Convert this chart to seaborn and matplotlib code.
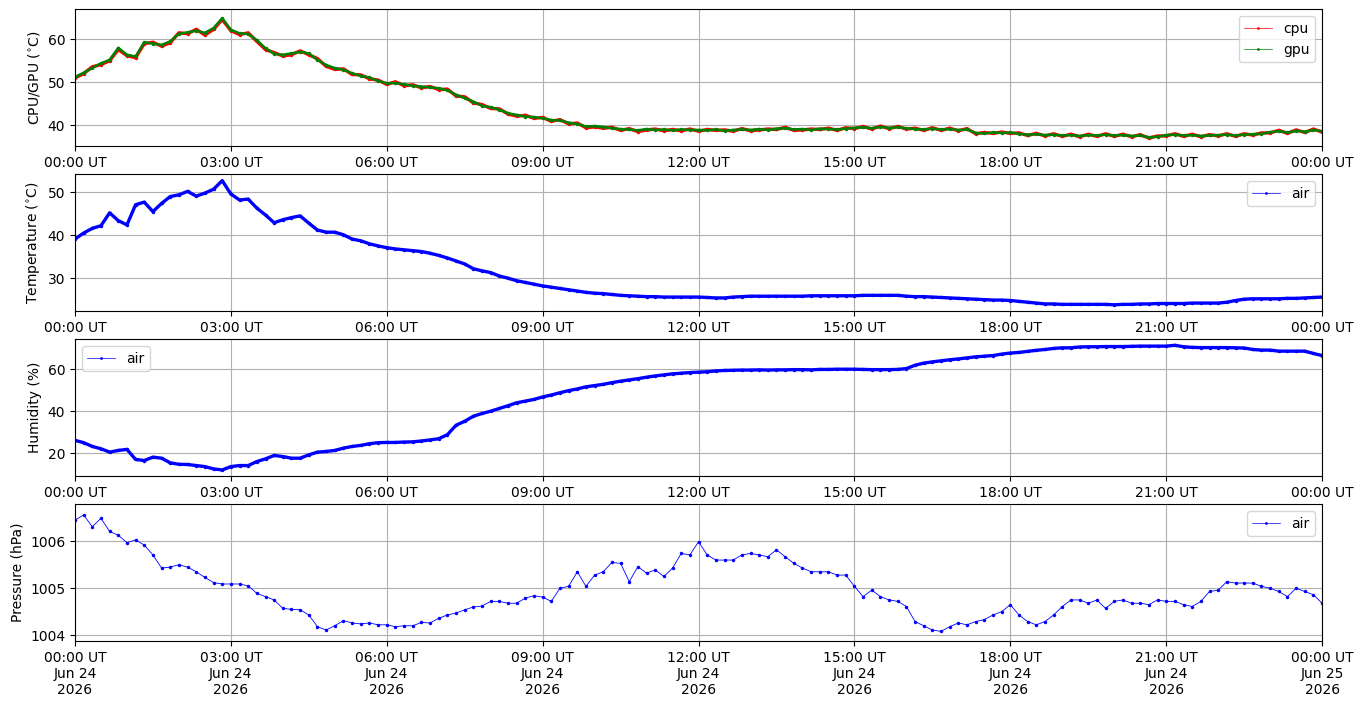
import pandas as pd
import seaborn as sns
import matplotlib.pyplot as plt
import matplotlib.dates as mdates
from matplotlib.ticker import ScalarFormatter

# Sample times, one reading every 10 minutes over the day
times = pd.date_range('2026-06-24 00:00', '2026-06-25 00:00', freq='10min')

# CPU / GPU temperature (deg C), rows are hours
gpu = [51.2, 52.2, 53.3, 54.4, 55.2, 58.0,
       56.4, 56.0, 59.3, 59.0, 58.7, 59.5,
       61.3, 61.6, 62.0, 61.5, 62.6, 64.9,
       62.2, 61.4, 61.2, 59.8, 57.9, 56.6,
       56.4, 56.7, 57.1, 56.7, 55.2, 54.0,
       53.3, 52.9, 52.1, 51.5, 51.1, 50.3,
       49.8, 49.8, 49.5, 49.2, 49.0, 48.8,
       48.6, 48.1, 47.1, 46.3, 45.5, 44.5,
       44.2, 43.6, 42.8, 42.4, 42.0, 41.9,
       41.6, 41.2, 41.1, 40.6, 40.3, 39.7,
       39.8, 39.6, 39.3, 39.1, 39.0, 38.8,
       39.1, 38.9, 39.0, 38.8, 39.0, 38.9,
       38.9, 38.8, 39.0, 38.7, 38.9, 39.0,
       38.9, 39.1, 38.9, 39.2, 39.3, 39.0,
       39.1, 38.9, 39.2, 39.1, 39.0, 39.2,
       39.4, 39.5, 39.3, 39.6, 39.4, 39.5,
       39.3, 39.1, 39.0, 39.2, 39.0, 39.1,
       38.9, 39.0, 38.2, 38.1, 38.3, 38.2,
       38.3, 38.0, 37.8, 37.9, 37.7, 37.8,
       37.6, 37.7, 37.5, 37.7, 37.6, 37.8,
       37.6, 37.7, 37.5, 37.6, 37.2, 37.3,
       37.7, 37.8, 37.6, 37.7, 37.5, 37.6,
       37.7, 37.8, 37.6, 37.8, 37.9, 38.0,
       38.4, 38.6, 38.3, 38.7, 38.5, 38.9,
       38.6]
cpu = [51.0, 52.0, 53.6, 54.1, 55.0, 57.6,
       56.2, 55.7, 59.0, 59.3, 58.4, 59.2,
       61.5, 61.3, 62.3, 61.0, 62.3, 64.6,
       62.0, 61.1, 61.5, 59.5, 57.6, 56.9,
       56.1, 56.4, 57.3, 56.4, 55.5, 53.7,
       53.0, 53.1, 51.8, 51.7, 50.8, 50.5,
       49.5, 50.1, 49.2, 49.4, 48.7, 49.0,
       48.3, 48.4, 46.8, 46.6, 45.2, 44.8,
       43.9, 43.8, 42.6, 42.1, 42.3, 41.6,
       41.8, 40.9, 41.3, 40.3, 40.5, 39.4,
       39.6, 39.3, 39.5, 38.8, 39.2, 38.5,
       38.9, 39.1, 38.7, 39.0, 38.7, 39.1,
       38.6, 39.0, 38.8, 38.9, 38.6, 39.2,
       38.7, 38.9, 39.1, 39.0, 39.5, 38.8,
       38.9, 39.1, 39.0, 39.3, 38.8, 39.4,
       39.2, 39.7, 39.1, 39.8, 39.2, 39.7,
       39.1, 39.3, 38.8, 39.4, 38.8, 39.3,
       38.7, 39.2, 38.0, 38.3, 38.1, 38.4,
       38.1, 38.2, 37.6, 38.1, 37.5, 38.0,
       37.4, 37.9, 37.3, 37.9, 37.4, 38.0,
       37.4, 37.9, 37.3, 37.8, 37.0, 37.5,
       37.5, 38.0, 37.4, 37.9, 37.3, 37.8,
       37.5, 38.0, 37.4, 38.0, 37.7, 38.2,
       38.2, 38.8, 38.1, 38.9, 38.3, 39.1,
       38.4]

# Air temperature (deg C)
air_temp = [39.1, 40.5, 41.6, 42.2, 45.2, 43.4,
            42.4, 47.1, 47.7, 45.5, 47.4, 49.0,
            49.4, 50.2, 49.1, 49.8, 50.7, 52.7,
            49.6, 48.2, 48.4, 46.3, 44.7, 42.9,
            43.6, 44.1, 44.5, 42.8, 41.2, 40.7,
            40.7, 40.1, 39.1, 38.7, 38.0, 37.5,
            37.1, 36.8, 36.6, 36.4, 36.2, 35.8,
            35.3, 34.7, 34.0, 33.3, 32.2, 31.7,
            31.3, 30.5, 30.0, 29.4, 29.0, 28.6,
            28.2, 27.9, 27.6, 27.3, 27.0, 26.7,
            26.5, 26.4, 26.2, 26.0, 25.9, 25.8,
            25.7, 25.7, 25.6, 25.6, 25.6, 25.6,
            25.6, 25.5, 25.4, 25.4, 25.6, 25.7,
            25.8, 25.8, 25.8, 25.8, 25.8, 25.8,
            25.8, 25.9, 25.9, 25.9, 25.9, 25.9,
            25.9, 26.0, 26.0, 26.0, 26.0, 26.0,
            25.8, 25.7, 25.7, 25.6, 25.5, 25.4,
            25.3, 25.2, 25.1, 25.0, 24.9, 24.9,
            24.8, 24.6, 24.4, 24.2, 24.0, 24.0,
            23.9, 23.9, 23.9, 23.9, 23.9, 23.9,
            23.8, 23.9, 23.9, 24.0, 24.0, 24.1,
            24.1, 24.1, 24.1, 24.2, 24.2, 24.2,
            24.2, 24.4, 24.8, 25.1, 25.2, 25.2,
            25.2, 25.2, 25.3, 25.3, 25.4, 25.5,
            25.6]

# Relative humidity (%)
humidity = [26.1, 25.0, 23.2, 22.1, 20.5, 21.3,
            21.8, 17.0, 16.5, 18.1, 17.6, 15.4,
            14.7, 14.6, 14.1, 13.6, 12.5, 12.0,
            13.6, 14.1, 14.1, 16.0, 17.3, 18.9,
            18.4, 17.6, 17.6, 19.2, 20.5, 20.8,
            21.3, 22.4, 23.2, 23.7, 24.5, 25.0,
            25.1, 25.1, 25.3, 25.4, 25.8, 26.3,
            26.9, 28.8, 33.3, 35.2, 37.6, 38.9,
            40.0, 41.3, 42.6, 44.0, 44.8, 45.6,
            46.8, 47.7, 48.8, 49.8, 50.6, 51.6,
            52.2, 52.8, 53.6, 54.3, 54.9, 55.5,
            56.2, 56.8, 57.3, 57.8, 58.1, 58.4,
            58.6, 58.8, 59.2, 59.4, 59.5, 59.6,
            59.6, 59.7, 59.6, 59.7, 59.7, 59.8,
            59.8, 59.7, 59.9, 59.9, 60.0, 60.0,
            60.0, 59.9, 59.8, 59.8, 59.8, 59.9,
            60.3, 61.9, 62.9, 63.5, 64.0, 64.5,
            64.9, 65.4, 65.9, 66.2, 66.5, 67.2,
            67.7, 68.0, 68.5, 69.0, 69.4, 69.9,
            70.2, 70.2, 70.6, 70.7, 70.7, 70.8,
            70.8, 70.8, 70.9, 71.0, 71.0, 71.0,
            71.0, 71.4, 70.7, 70.4, 70.3, 70.3,
            70.3, 70.3, 70.2, 70.1, 69.4, 69.1,
            69.1, 68.6, 68.6, 68.6, 68.6, 67.5,
            66.5]

# Air pressure (hPa)
pressure = [1006.45, 1006.56, 1006.31, 1006.49, 1006.21, 1006.13,
            1005.97, 1006.03, 1005.92, 1005.71, 1005.43, 1005.45,
            1005.50, 1005.45, 1005.35, 1005.23, 1005.12, 1005.09,
            1005.09, 1005.09, 1005.05, 1004.89, 1004.82, 1004.75,
            1004.57, 1004.55, 1004.54, 1004.43, 1004.18, 1004.11,
            1004.20, 1004.31, 1004.26, 1004.24, 1004.26, 1004.22,
            1004.22, 1004.18, 1004.20, 1004.20, 1004.27, 1004.26,
            1004.36, 1004.43, 1004.47, 1004.54, 1004.60, 1004.62,
            1004.72, 1004.72, 1004.68, 1004.68, 1004.79, 1004.84,
            1004.81, 1004.72, 1005.00, 1005.04, 1005.35, 1005.04,
            1005.28, 1005.35, 1005.55, 1005.53, 1005.14, 1005.46,
            1005.32, 1005.39, 1005.25, 1005.43, 1005.74, 1005.71,
            1005.99, 1005.71, 1005.60, 1005.60, 1005.60, 1005.71,
            1005.74, 1005.71, 1005.67, 1005.82, 1005.67, 1005.53,
            1005.43, 1005.35, 1005.35, 1005.35, 1005.28, 1005.28,
            1005.04, 1004.82, 1004.96, 1004.82, 1004.75, 1004.72,
            1004.61, 1004.29, 1004.20, 1004.11, 1004.08, 1004.18,
            1004.26, 1004.22, 1004.29, 1004.33, 1004.43, 1004.50,
            1004.65, 1004.43, 1004.29, 1004.22, 1004.29, 1004.43,
            1004.61, 1004.75, 1004.75, 1004.68, 1004.75, 1004.57,
            1004.72, 1004.75, 1004.68, 1004.68, 1004.65, 1004.75,
            1004.72, 1004.72, 1004.65, 1004.61, 1004.72, 1004.93,
            1004.96, 1005.14, 1005.11, 1005.11, 1005.11, 1005.04,
            1005.00, 1004.93, 1004.82, 1005.00, 1004.93, 1004.86,
            1004.68]

dense = dict(marker='.', markersize=5, markeredgewidth=0, linewidth=2.4)
sparse = dict(marker='.', markersize=5, markeredgewidth=0, linewidth=0.6)


def legend_thin(ax, loc):
    leg = ax.legend(loc=loc)
    for h in leg.get_lines():
        h.set_linewidth(0.5)
        h.set_markersize(4)


fig, axes = plt.subplots(4, 1, figsize=(13.63, 7.07), dpi=100)
fig.subplots_adjust(left=0.055, right=0.97, top=0.987, bottom=0.093, hspace=0.204)

# Panel 1: cpu/gpu
ax = axes[0]
sns.lineplot(x=times, y=cpu, ax=ax, color='red', label='cpu', **dense)
sns.lineplot(x=times, y=gpu, ax=ax, color='green', label='gpu',
             marker='.', markersize=5, markeredgewidth=0, linewidth=1.8)
ax.set_ylabel('CPU/GPU ($^{\\circ}$C)')
ax.set_ylim(35.1, 67.0)
ax.set_yticks([40, 50, 60])
legend_thin(ax, 'upper right')

# Panel 2: air temperature
ax = axes[1]
sns.lineplot(x=times, y=air_temp, ax=ax, color='blue', label='air', **dense)
ax.set_ylabel('Temperature ($^{\\circ}$C)')
ax.set_ylim(22.3, 54.2)
ax.set_yticks([30, 40, 50])
legend_thin(ax, 'upper right')

# Panel 3: humidity
ax = axes[2]
sns.lineplot(x=times, y=humidity, ax=ax, color='blue', label='air', **dense)
ax.set_ylabel('Humidity (%)')
ax.set_ylim(9.0, 74.3)
ax.set_yticks([20, 40, 60])
legend_thin(ax, 'upper left')

# Panel 4: pressure
ax = axes[3]
sns.lineplot(x=times, y=pressure, ax=ax, color='blue', label='air', **sparse)
ax.set_ylabel('Pressure (hPa)')
ax.set_ylim(1003.87, 1006.79)
ax.set_yticks([1004, 1005, 1006])
ax.yaxis.set_major_formatter(ScalarFormatter(useOffset=False))
legend_thin(ax, 'upper right')

for i, ax in enumerate(axes):
    ax.set_xlim(times[0], times[-1])
    ax.xaxis.set_major_locator(mdates.HourLocator(byhour=range(0, 24, 3)))
    if i == 3:
        ax.xaxis.set_major_formatter(mdates.DateFormatter('%H:%M UT\n%b %d\n%Y'))
    else:
        ax.xaxis.set_major_formatter(mdates.DateFormatter('%H:%M UT'))
    ax.set_xlabel('')
    ax.grid(True)
    for lbl in ax.get_xticklabels():
        lbl.set_ha('center')

fig.savefig('out.png', dpi=100)
